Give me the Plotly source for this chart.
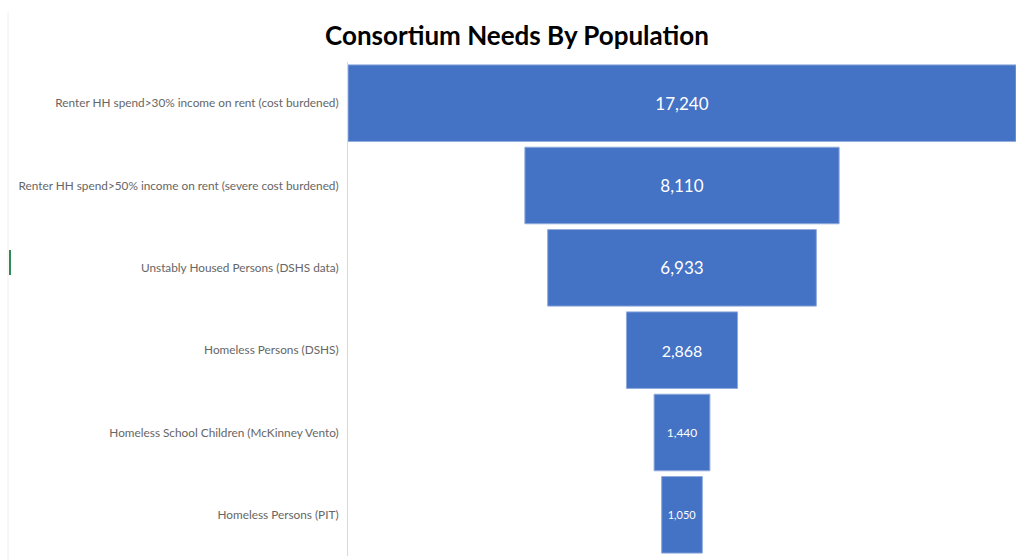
import plotly.graph_objects as go

# Population groups and their counts, largest first
categories = [
    "Renter HH spend>30% income on rent (cost burdened)",
    "Renter HH spend>50% income on rent (severe cost burdened)",
    "Unstably Housed Persons (DSHS data)",
    "Homeless Persons (DSHS)",
    "Homeless School Children (McKinney Vento)",
    "Homeless Persons (PIT)",
]
counts = [17240, 8110, 6933, 2868, 1440, 1050]
value_labels = ["17,240", "8,110", "6,933", "2,868", "1,440", "1,050"]

half = max(counts) / 2

fig = go.Figure(
    go.Funnel(
        y=categories,
        x=counts,
        text=value_labels,
        textinfo="text",
        textposition="inside",
        insidetextanchor="middle",
        textfont=dict(family="Lato, sans-serif", color="white",
                      size=[17, 17, 17, 16, 12, 11]),
        marker=dict(color="#4472C4", line=dict(color="#8FAADC", width=1)),
        connector=dict(visible=False),
        hoverinfo="y+x",
    )
)

fig.update_layout(
    width=1017,
    height=560,
    margin=dict(l=348, r=1, t=62, b=4),
    paper_bgcolor="white",
    plot_bgcolor="white",
    showlegend=False,
    funnelgap=0.07,
    title=dict(
        text="<b>Consortium Needs By Population</b>",
        x=517 / 1017,
        xref="container",
        xanchor="center",
        y=1 - 36 / 560,
        yref="container",
        yanchor="middle",
        font=dict(family="Lato, sans-serif", size=26, color="#000000"),
    ),
    xaxis=dict(visible=False, range=[-half, half], fixedrange=True),
    yaxis=dict(
        showline=True,
        linecolor="#D9D9D9",
        linewidth=1,
        ticks="",
        showgrid=False,
        ticklabelstandoff=6,
        tickfont=dict(family="Lato, sans-serif", size=11.8, color="#666666"),
    ),
    shapes=[
        # worksheet edge and selected-cell marker at the far left
        dict(type="line", xref="paper", yref="paper",
             x0=-340 / 668, x1=-340 / 668, y0=-0.01, y1=1.1,
             line=dict(color="#EEEEEE", width=1)),
        dict(type="line", xref="paper", yref="paper",
             x0=-338 / 668, x1=-338 / 668,
             y0=1 - (250 - 62) / 494, y1=1 - (275 - 62) / 494,
             line=dict(color="#2E8B57", width=2)),
    ],
)

fig.write_html("out.html")
